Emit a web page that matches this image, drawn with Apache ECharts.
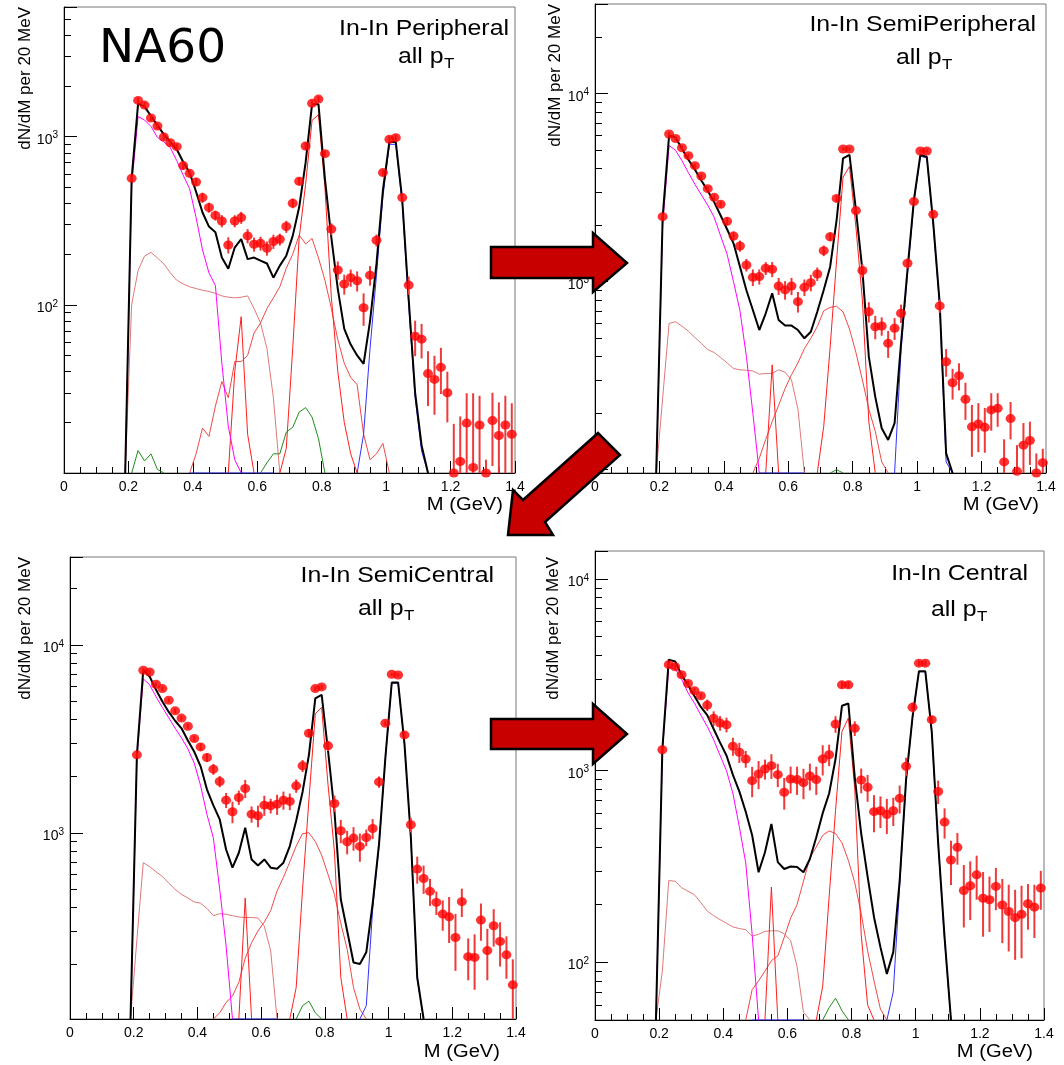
<!DOCTYPE html>
<html><head><meta charset="utf-8">
<script src="https://cdn.jsdelivr.net/npm/echarts@6/dist/echarts.min.js"></script>
<style>html,body{margin:0;padding:0;background:#fff}#c{width:1064px;height:1065px}</style>
</head><body><div id="c"></div>
<script>
const _ = null;
// bin centres (GeV), 20 MeV bins
const MASS = [0.19,0.21,0.23,0.25,0.27,0.29,0.31,0.33,0.35,0.37,0.39,0.41,0.43,0.45,0.47,0.49,0.51,0.53,0.55,0.57,0.59,
  0.61,0.63,0.65,0.67,0.69,0.71,0.73,0.75,0.77,0.79,0.81,0.83,0.85,0.87,0.89,0.91,0.93,0.95,0.97,0.99,
  1.01,1.03,1.05,1.07,1.09,1.11,1.13,1.15,1.17,1.19,1.21,1.23,1.25,1.27,1.29,1.31,1.33,1.35,1.37,1.39];

// ---------- Peripheral ----------
const P1_DATA = [565,1643,1540,1290,1156,995,920,872,673,605, 537,434,379,340,315,227,315,330,257,229,
  232,217,238,245,292,402,543,880,1578,1672, 792,282,161,133,145,139,96,150,242,611,
  964,986,434,131,65,62.5,39,36,42.5,30, 10,11.7,19.8,10.8,19.3,10,20.5,16.7,19.3,17];
const P1_ERR = [23,67,63,53,47,41,38,36,37,33, 29,30,26,23,26,25,26,27,25,22,
  22,21,23,20,24,27,30,48,65,69, 32,23,20,18,17,19,21,20,20,25,
  40,40,24,16,15.5,14.5,14,13.8,13,10, 9.6,10,10,19,9.5,2,9.5,9.6,9.5,9];
const P1_TOTAL = [10,565,1571,1507,1327,1167,1032,930,841,707,611, 470,354,292,270,191,164,219,246,187,191,
  183,176,145,171,196,257,380,700,1556,1556, 560,250,124,72,58,50,44.5,80,175,480, 929,929,420,108,30,14.6,10];
const P1_ETADAL = [10,510,1315,1256,1150,990,930,860,720,590,490, 330,212,155,130,45,19,12,10];
const P1_OMDAL = [10,100,160,195,205,190,175,155,140,133,128, 125,122,120,117,113,111,110,111,113,95, 78,55,28,10];
const P1_RHO = [10,13,18.5,16.5,25,35,28,46,46,50,68, 78,95,110,128,165,200,260,230,248,190, 140,95,62,45,37,33.5,17,12,13,15,10];
const P1_ETA = [10,40,85,17,10];
const P1_OMEGA = [10,14,55,250,520,1250,1350,500,110,40,20,13,10];
const P1_PHI = [10,10,10,10,10,10,10,10,10,10,10,10,10,10, _,_,_,_,_,_,_,_,_,_,_,_, 10,17,55,150,440,900,900,400,100,28,13.5,10];
const P1_GREEN = [10,13.6,11.8,13,10.5,10, _,_,_,_,_,_,_,_,_,_,_,_,_,_, 10,11.5,13,13,17.5,18.7,23,24.5,21.5,16,10];
const P1_YLABELS = [100, 1000];

// ---------- SemiPeripheral ----------
const P2_DATA = [2218,6100,5780,5160,4680,4140,3650,3125,2810,2580, 2094,1750,1549,1227,1055,1064,1178,1164,948,904,
  948,783,933,988,1099,1462,1735,2773,5080,5080, 2388,1146,692,576,581,470,565,679,1254,2667,
  4955,4955,2281,743,375,290,316,237,169,175, 168,208,212,110,187,98,135,143,96,109];
const P2_ERR = [70,150,140,130,120,110,100,95,95,100, 100,100,105,95,107,99,93,107,98,102,
  100,98,94,100,90,95,95,100,100,100, 85,94,85,82,65,77,75,76,77,60,
  100,100,60,61,63,54,52,53,52,51, 45,47,43,35,42,37,42,37,26,20];
const P2_TOTAL = [96,2200,6000,5850,5100,4450,3950,3450,3050,2650,2250, 1900,1600,1200,900,707,553,679,867,625,584,
  584,553,500,542,692,904,1202,2128,4530,4720, 2404,1153,399,244,166,144,177,470,1153,2723, 4720,4620,2048,767,122,96];
const P2_ETADAL = [96,2000,5300,5000,4400,3800,3300,2900,2550,2200,1750, 1400,1000,700,400,200,96];
const P2_OMDAL = [96,240,600,612,580,545,505,470,435,420,395, 370,345,340,338,335,322,325,325,340,330, 300,210,96];
const P2_RHO = [96,115,145,180,220,270, 320,370,440,500,577,700,730,740,690,560, 420,300,210,160,110,96];
const P2_ETA = [96,361,96];
const P2_OMEGA = [96,170,450,1300,3600,4100,1950,800,180,96];
const P2_PHI = [96,96,96,96,96,96,96,96, _,_,_,_,_,_,_,_,_,_,_,_,_, 96,430,1100,2650,4650,4550,2000,740,110,96];
const P2_GREEN = [96,100,96];
const P2_YLABELS = [1000, 10000];

// ---------- SemiCentral ----------
const P3_DATA = [2600,7330,7180,6180,5860,5080,4460,4080,3690,3175, 2866,2516,2181,1876,1492,1295,1542,1721,1257,1232,
  1403,1392,1420,1492,1469,1778,2272,3390,5860,5980, 2904,1433,1025,896,937,846,944,1054,1866,3830,
  6980,6920,3320,1103,641,571,488,426,369,357, 277,430,219,217,343,236,320,264,224,155];
const P3_ERR = [80,180,180,160,150,140,130,120,115,110, 130,135,145,130,138,170,135,192,125,162,
  172,125,174,165,150,145,167,166,168,171, 178,146,146,128,134,145,96,129,130,125,
  140,140,108,99,105,98,80,61,68,98, 93,74,55,71,77,72,72,70,57,57];
const P3_TOTAL = [102,2600,7360,6790,5770,5000,4400,3950,3600,3100,2700, 2260,1700,1400,1178,815,652,783,1063,721,670,
  721,652,644,693,850,1158,1650,2600,5200,5420, 2730,1310,443,301,204,200,231,418,870,2516, 6310,6310,2965,944,170,102];
const P3_ETADAL = [102,2500,6600,6140,5300,4650,4100,3600,3200,2800,2350, 1780,1250,940,500,250,102];
const P3_OMDAL = [102,270,693,660,620,585,540,500,470,450,428, 422,395,362,371,368,362,356,354,354,352, 318,235,102];
const P3_RHO = [102,110,125,135,160,215,260,300, 335,385,490,580,700,850,990,1000,900,760, 600,470,330,240,150,115,102];
const P3_ETA = [102,450,102];
const P3_OMEGA = [102,150,500,1500,4300,4650,1800,800,170,102];
const P3_PHI = [102,102,102,102,102,102,102,102, _,_,_,_,_,_,_,_,_,_,_,_, 102,120,390,850,2480,6250,6250,2930,930,165,102];
const P3_GREEN = [102,120,127,110,102];
const P3_YLABELS = [1000, 10000];

// ---------- Central ----------
const P4_DATA = [1286,3573,3486,3165,2851,2611,2459,2199,1875,1771, 1737,1340,1247,1151,887,961,1020,1062,953,771,
  905,898,866,938,898,1151,1211,1750,2805,2805, 1663,894,819,611,618,590,618,717,1054,2139,
  3639,3639,1845,778,539,342,398,237,251,286, 216,212,249,199,184,171,178,202,194,244];
const P4_ERR = [41,100,100,90,90,85,80,150,165,156, 153,145,150,115,160,161,122,157,133,145,
  145,151,156,150,151,207,155,175,112,112, 146,132,131,134,116,123,104,120,114,128,
  116,116,89,109,97,89,75,85,85,74, 80,68,62,73,70,68,73,54,60,56];
const P4_TOTAL = [50,1290,3796,3715,3150,2800,2450,2150,1950,1650,1400, 1200,950,780,610,460,295,375,527,333,307,
  316,314,295,346,449,600,760,1150,2180,2240, 920,470,280,172,120,87,113,267,900,1900, 3300,3300,1600,420,135,50];
const P4_ETADAL = [50,1250,3460,3400,3000,2550,2250,1950,1700,1450,1200, 1000,760,510,330,140,50];
const P4_OMDAL = [50,90,267,265,245,235,225,205,185,175,167, 160,153,150,148,137,140,145,146,146,141, 130,95,55,50];
const P4_RHO = [50,72,80,90,102,108,135, 170,200,265,350,400,460,485,470,420,340, 260,180,115,80,57,50];
const P4_ETA = [50,247,50];
const P4_OMEGA = [50,75,219,620,1600,1880,800,140,60,50];
const P4_PHI = [50,50,50,50,50,50,50,50,50, _,_,_,_,_,_,_,_,_,_,_,_, 50,70,250,880,1880,3280,3280,1590,410,130,50];
const P4_GREEN = [50,58,65,56,50];
const P4_YLABELS = [100, 1000, 10000];

// ---------- styling / layout ----------
const FONT = '"Liberation Sans", Arial, Helvetica, sans-serif';
const STYLE = {
  omdal: { color: '#e07878', width: 1 },
  rho:   { color: '#f04848', width: 1 },
  eta:   { color: '#ff1e1e', width: 1 },
  omega: { color: '#ff1e1e', width: 1 },
  green: { color: '#1e8c1e', width: 1 },
  etadal:{ color: '#ff00ff', width: 1 },
  phi:   { color: '#3030ff', width: 1 },
  total: { color: '#000000', width: 2 }
};

const PANELS = [
  { grid: { left: 64, top: 7, width: 451, height: 466 }, yMin: 10, yMax: 5900, yLabels: P1_YLABELS,
    data: P1_DATA, err: P1_ERR,
    curves: [[P1_OMDAL,0.19,'omdal'],[P1_RHO,0.39,'rho'],[P1_ETA,0.51,'eta'],[P1_OMEGA,0.67,'omega'],
             [P1_GREEN,0.21,'green'],[P1_ETADAL,0.19,'etadal'],[P1_PHI,0.39,'phi'],[P1_TOTAL,0.19,'total']],
    title: 'In-In Peripheral', tx: 509, ty: 29, sx: 398, sy: 57, mx: 503, my: 505, yx: 25, yy: 7 },
  { grid: { left: 595, top: 4, width: 451, height: 469 }, yMin: 96, yMax: 30000, yLabels: P2_YLABELS,
    data: P2_DATA, err: P2_ERR,
    curves: [[P2_OMDAL,0.19,'omdal'],[P2_RHO,0.49,'rho'],[P2_ETA,0.53,'eta'],[P2_OMEGA,0.69,'omega'],
             [P2_GREEN,0.73,'green'],[P2_ETADAL,0.19,'etadal'],[P2_PHI,0.51,'phi'],[P2_TOTAL,0.19,'total']],
    title: 'In-In SemiPeripheral', tx: 1036, ty: 25, sx: 896, sy: 58, mx: 1039, my: 505, yx: 555, yy: 4 },
  { grid: { left: 70, top: 557, width: 446, height: 462 }, yMin: 102, yMax: 29400, yLabels: P3_YLABELS,
    data: P3_DATA, err: P3_ERR,
    curves: [[P3_OMDAL,0.19,'omdal'],[P3_RHO,0.45,'rho'],[P3_ETA,0.53,'eta'],[P3_OMEGA,0.69,'omega'],
             [P3_GREEN,0.71,'green'],[P3_ETADAL,0.19,'etadal'],[P3_PHI,0.51,'phi'],[P3_TOTAL,0.19,'total']],
    title: 'In-In SemiCentral', tx: 494, ty: 576, sx: 358, sy: 609, mx: 500, my: 1052, yx: 25, yy: 557 },
  { grid: { left: 595, top: 551, width: 449, height: 469 }, yMin: 50, yMax: 14000, yLabels: P4_YLABELS,
    data: P4_DATA, err: P4_ERR,
    curves: [[P4_OMDAL,0.19,'omdal'],[P4_RHO,0.47,'rho'],[P4_ETA,0.53,'eta'],[P4_OMEGA,0.69,'omega'],
             [P4_GREEN,0.71,'green'],[P4_ETADAL,0.19,'etadal'],[P4_PHI,0.49,'phi'],[P4_TOTAL,0.19,'total']],
    title: 'In-In Central', tx: 1028, ty: 574, sx: 931, sy: 610, mx: 1033, my: 1052, yx: 553, yy: 557 }
];

function startIndex(m) { return MASS.findIndex(x => Math.abs(x - m) < 1e-9); }

const grids = [], xAxes = [], yAxes = [], series = [], graphics = [];
PANELS.forEach((P, p) => {
  grids.push(Object.assign({ show: true, borderColor: '#777', borderWidth: 1, containLabel: false }, P.grid));
  xAxes.push({
    type: 'value', gridIndex: p, min: 0, max: 1.4, interval: 0.2,
    axisLine: { show: true, onZero: false, lineStyle: { color: '#000', width: 1 } },
    axisTick: { show: true, inside: true, length: 12, lineStyle: { color: '#000' } },
    minorTick: { show: true, splitNumber: 4, length: 6, lineStyle: { color: '#000' } },
    axisLabel: { margin: 7, fontSize: 14, color: '#000', fontFamily: FONT },
    splitLine: { show: false }, minorSplitLine: { show: false }
  });
  yAxes.push({
    type: 'log', logBase: 10, gridIndex: p, min: P.yMin, max: P.yMax,
    axisLine: { show: true, lineStyle: { color: '#000', width: 1 } },
    axisTick: { show: true, inside: true, length: 13, lineStyle: { color: '#000' } },
    minorTick: { show: true, splitNumber: 9, length: 7, lineStyle: { color: '#000' } },
    splitLine: { show: false }, minorSplitLine: { show: false },
    axisLabel: {
      margin: 6, showMinLabel: true, showMaxLabel: true,
      formatter: (v) => {
        const hit = P.yLabels.find(t => Math.abs(t - v) / t < 1e-6);
        if (!hit) return '';
        return '{b|10}{s|' + Math.round(Math.log10(hit)) + '}';
      },
      rich: {
        b: { fontSize: 14, fontFamily: FONT, color: '#000', padding: [6, 0, 0, 0] },
        s: { fontSize: 10, fontFamily: FONT, color: '#000', verticalAlign: 'top', padding: [4, 0, 0, 0] }
      }
    }
  });
  P.curves.forEach(([vals, from, key]) => {
    const i0 = startIndex(from);
    const st = STYLE[key];
    series.push({
      type: 'line', xAxisIndex: p, yAxisIndex: p, name: key,
      data: vals.map((v, j) => [MASS[i0 + j], v]),
      showSymbol: false, symbol: 'none', clip: true, silent: true, animation: false,
      connectNulls: false, z: key === 'total' ? 3 : 2,
      lineStyle: { color: st.color, width: st.width }
    });
  });
  const yMin = P.yMin, yMax = P.yMax;
  series.push({
    type: 'custom', xAxisIndex: p, yAxisIndex: p, z: 4, silent: true, animation: false,
    data: P.data.map((v, k) => [MASS[k + 1], v, P.err[k]]),
    encode: { x: 0, y: 1 },
    renderItem: (params, api) => {
      const m = api.value(0), v = api.value(1), e = api.value(2);
      const lo = Math.max(v - e, yMin), hi = Math.min(v + e, yMax);
      const a = api.coord([m, lo]), b = api.coord([m, hi]);
      return { type: 'line', shape: { x1: a[0], y1: a[1], x2: b[0], y2: b[1] },
               style: { stroke: '#f03a3a', lineWidth: 2 } };
    }
  });
  series.push({
    type: 'scatter', xAxisIndex: p, yAxisIndex: p, z: 5, silent: true, animation: false, clip: false,
    data: P.data.map((v, k) => [MASS[k + 1], v]),
    symbol: 'circle', symbolSize: [10, 9], itemStyle: { color: '#ff0000' }
  });
  // texts
  graphics.push({ type: 'text', x: P.tx, y: P.ty, scaleX: 1.13, z: 50,
    style: { text: P.title, font: '22px ' + FONT, fill: '#000', textAlign: 'right', textVerticalAlign: 'middle' } });
  graphics.push({ type: 'text', x: P.sx, y: P.sy, scaleX: 1.13, z: 50,
    style: { text: 'all p', font: '22px ' + FONT, fill: '#000', textAlign: 'left', textVerticalAlign: 'middle' } });
  graphics.push({ type: 'text', x: P.sx + 46, y: P.sy + 7, scaleX: 1.13, z: 50,
    style: { text: 'T', font: '15px ' + FONT, fill: '#000', textAlign: 'left', textVerticalAlign: 'middle' } });
  graphics.push({ type: 'text', x: P.mx, y: P.my, scaleX: 1.12, z: 50,
    style: { text: 'M (GeV)', font: '18px ' + FONT, fill: '#000', textAlign: 'right', textVerticalAlign: 'middle' } });
  graphics.push({ type: 'text', x: P.yx, y: P.yy, rotation: Math.PI / 2, z: 50,
    style: { text: 'dN/dM per 20 MeV', font: '17px ' + FONT, fill: '#000', textAlign: 'right', textVerticalAlign: 'middle' } });
});

graphics.push({ type: 'text', x: 99, y: 50, z: 50,
  style: { text: 'NA60', font: '47px "DejaVu Sans", sans-serif', fill: '#000', textAlign: 'left', textVerticalAlign: 'middle' } });

const ARROW = { fill: '#c80000', stroke: '#000', lineWidth: 2.5 };
graphics.push({ type: 'polygon', z: 100, shape: { points: [[491,247],[593,247],[593,233],[627,263],[593,292],[593,278],[491,278]] }, style: ARROW });
graphics.push({ type: 'polygon', z: 100, shape: { points: [[491,719],[593,719],[593,704],[627,734],[593,764],[593,749],[491,749]] }, style: ARROW });
graphics.push({ type: 'polygon', z: 100, shape: { points: [[508,535],[513,490],[523,500],[598,433],[620,455],[545,522],[553,535]] }, style: ARROW });

const chart = echarts.init(document.getElementById('c'), null, { renderer: 'canvas' });
chart.setOption({
  animation: false,
  backgroundColor: '#ffffff',
  grid: grids, xAxis: xAxes, yAxis: yAxes, series: series,
  graphic: { elements: graphics }
});
</script></body></html>
